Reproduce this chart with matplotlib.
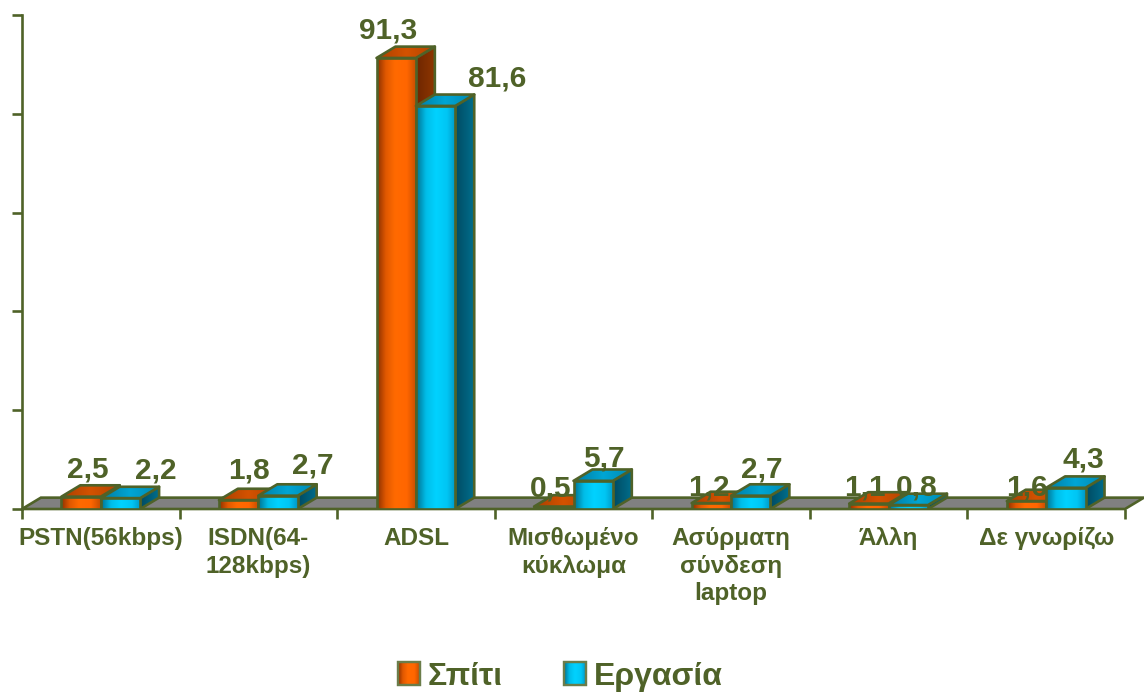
import numpy as np
import matplotlib
matplotlib.use("Agg")
import matplotlib.pyplot as plt
from matplotlib.patches import Polygon, Rectangle
from matplotlib.colors import LinearSegmentedColormap

# ---- data -------------------------------------------------------------
categories = ["PSTN(56kbps)", "ISDN(64-\n128kbps)", "ADSL", "Μισθωμένο\nκύκλωμα",
              "Ασύρματη\nσύνδεση\nlaptop", "Άλλη", "Δε γνωρίζω"]
home = [2.5, 1.8, 91.3, 0.5, 1.2, 1.1, 1.6]
work = [2.2, 2.7, 81.6, 5.7, 2.7, 0.8, 4.3]
series_names = ["Σπίτι", "Εργασία"]

# ---- style ------------------------------------------------------------
OLIVE = "#4F6228"
FONT = "Liberation Sans"
W, H = 1144, 692
BAR_W = 0.25          # width of a bar's front face (category units)
DX, DY = 0.12, 2.3    # oblique depth offset (x in category units, y in value units)

# label nudges in pixels (right, up) per category
home_nudge = [(7, 27), (10, 30), (-8, 27), (-3, 18), (-2, 16), (-4, 16), (0, 14)]
work_nudge = [(35, 28), (35, 30), (62, 27), (11, 22), (11, 26), (8, 18), (17, 28)]

front_cmaps = [
    LinearSegmentedColormap.from_list("of", [(0, "#8A3000"), (0.22, "#E05800"), (0.45, "#FF6A00"),
                                             (0.75, "#FF6600"), (1, "#C24C00")]),
    LinearSegmentedColormap.from_list("bf", [(0, "#00708F"), (0.25, "#00BDE8"), (0.5, "#00D2FF"),
                                             (0.78, "#00C6F4"), (1, "#0096C4")]),
]
side_cmaps = [
    LinearSegmentedColormap.from_list("os", ["#6E2600", "#8E3600"]),
    LinearSegmentedColormap.from_list("bs", ["#004A62", "#006E8C"]),
]
top_cmaps = [
    LinearSegmentedColormap.from_list("ot", ["#A84000", "#D45200", "#B04400"]),
    LinearSegmentedColormap.from_list("bt", ["#007CA2", "#00A6D4", "#0088B0"]),
]

grad = np.linspace(0, 1, 256).reshape(1, -1)

fig = plt.figure(figsize=(W / 100, H / 100), dpi=100)
fig.patch.set_facecolor("white")

left_px, right_px, base_px, top_px = 22, 1125, 509, 15
ax = fig.add_axes([left_px / W, (H - base_px) / H,
                   (right_px - left_px) / W, (base_px - top_px) / H])
ax.set_facecolor("none")

n = len(categories)
x = np.arange(n)


def shaded(poly_pts, cmap, extent, z):
    poly = Polygon(poly_pts, closed=True, facecolor="none", edgecolor="none", zorder=z)
    ax.add_patch(poly)
    im = ax.imshow(grad, cmap=cmap, extent=extent, aspect="auto",
                   interpolation="bilinear", zorder=z)
    im.set_clip_path(poly)
    ax.add_patch(Polygon(poly_pts, closed=True, fill=False, edgecolor=OLIVE,
                         linewidth=1.9, joinstyle="round", zorder=z + 0.01))


# floor
floor = Polygon([(-0.5, 0), (n - 0.5, 0), (n - 0.5 + DX, DY), (-0.5 + DX, DY)],
                closed=True, facecolor="#808080", edgecolor=OLIVE, linewidth=1.9,
                zorder=1, clip_on=False)
ax.add_patch(floor)


def bar3d(x0, v, s, z):
    x1 = x0 + BAR_W
    front = [(x0, 0), (x1, 0), (x1, v), (x0, v)]
    side = [(x1, 0), (x1 + DX, DY), (x1 + DX, v + DY), (x1, v)]
    top = [(x0, v), (x1, v), (x1 + DX, v + DY), (x0 + DX, v + DY)]
    shaded(side, side_cmaps[s], (x1, x1 + DX, 0, v + DY), z)
    shaded(top, top_cmaps[s], (x0, x1 + DX, v, v + DY), z + 0.1)
    shaded(front, front_cmaps[s], (x0, x1, 0, v), z + 0.2)


z = 2
for i in range(n):
    for s, vals in enumerate((home, work)):
        x0 = x[i] - BAR_W if s == 0 else x[i]
        bar3d(x0, vals[i], s, z)
        z += 1

# value labels
for i in range(n):
    for s, (vals, nudge) in enumerate(((home, home_nudge), (work, work_nudge))):
        cx = x[i] - BAR_W / 2 if s == 0 else x[i] + BAR_W / 2
        ax.annotate(f"{vals[i]:.1f}".replace(".", ","), (cx, vals[i]),
                    xytext=nudge[i], textcoords="offset pixels",
                    ha="center", va="center", fontsize=21.5, fontweight="bold",
                    color=OLIVE, family=FONT, zorder=100, annotation_clip=False)

ax.set_xlim(-0.5, n - 0.5)
ax.set_ylim(0, 100)

# axes decoration
for sp in ("top", "right", "bottom"):
    ax.spines[sp].set_visible(False)
ax.spines["left"].set_color(OLIVE)
ax.spines["left"].set_linewidth(1.9)
ax.set_yticks(np.arange(0, 101, 20))
ax.set_yticklabels([])
ax.tick_params(axis="y", direction="out", length=7, width=1.9, color=OLIVE)

ax.set_xticks(x)
ax.set_xticklabels(categories, fontsize=17.5, fontweight="bold", color=OLIVE,
                   family=FONT, linespacing=1.25, va="top")
ax.set_xticks(np.arange(-0.5, n, 1.0), minor=True)
ax.tick_params(axis="x", which="major", length=0, pad=13)
ax.tick_params(axis="x", which="minor", direction="out", length=7, width=1.9, color=OLIVE)

# legend drawn on an overlay in pixel units
lg = fig.add_axes([0, 0, 1, 1])
lg.set_xlim(0, W)
lg.set_ylim(H, 0)
lg.axis("off")
lg.patch.set_alpha(0)
legend_items = [(398, series_names[0], front_cmaps[0]), (564, series_names[1], front_cmaps[1])]
for lx, name, cm in legend_items:
    sq = Rectangle((lx, 662), 22, 23, facecolor="none", edgecolor="#6B7D4A", linewidth=1.6)
    lg.add_patch(sq)
    im = lg.imshow(grad, cmap=cm, extent=(lx, lx + 22, 685, 662), aspect="auto",
                   interpolation="bilinear")
    im.set_clip_path(sq)
    lg.add_patch(Rectangle((lx, 662), 22, 23, fill=False, edgecolor="#6B7D4A", linewidth=1.6))
    lg.text(lx + 30, 685, name, fontsize=23, fontweight="bold", color=OLIVE,
            family=FONT, ha="left", va="baseline")
lg.set_xlim(0, W)
lg.set_ylim(H, 0)

fig.savefig("out.png", dpi=100)
